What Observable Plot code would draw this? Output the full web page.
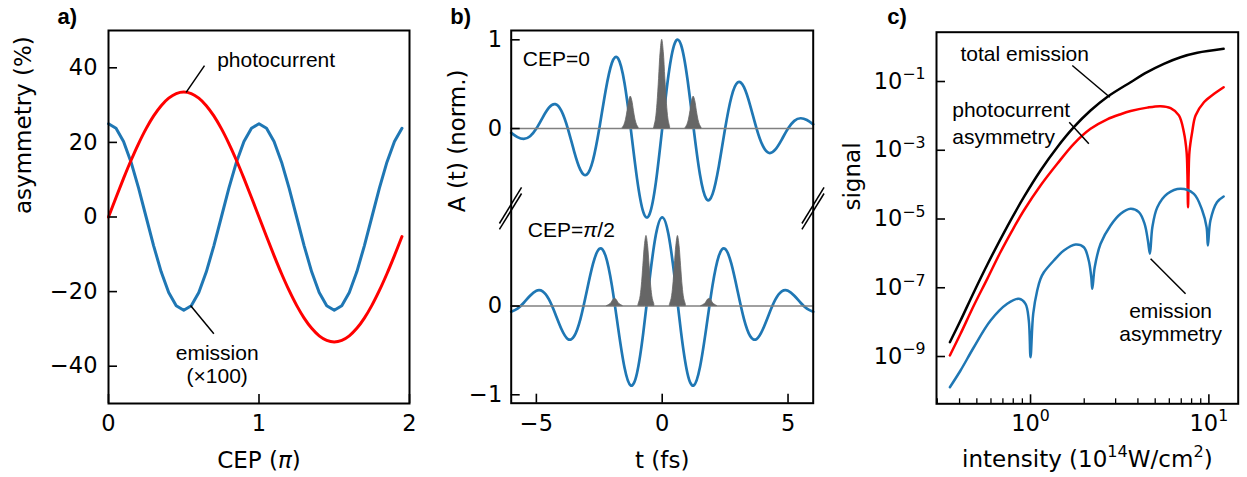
<!DOCTYPE html>
<html>
<head>
<meta charset="utf-8">
<script src="https://cdn.jsdelivr.net/npm/d3@7"></script>
<script src="https://cdn.jsdelivr.net/npm/@observablehq/plot@0.6"></script>
<style>
  html, body { margin: 0; padding: 0; background: white; }
  #fig { position: relative; width: 1247px; height: 477px; overflow: hidden; background: white; }
  #fig svg { position: absolute; top: 0; max-width: none; }
</style>
</head>
<body>
<div id="fig"></div>
<script>
// ---------------- Panel a: asymmetry vs CEP ----------------
const cep = [0, 0.05, 0.1, 0.15, 0.2, 0.25, 0.3, 0.35, 0.4, 0.45, 0.5, 0.55, 0.6, 0.65, 0.7, 0.75, 0.8, 0.85, 0.9, 0.95,
             1, 1.05, 1.1, 1.15, 1.2, 1.25, 1.3, 1.35, 1.4, 1.45, 1.5, 1.55, 1.6, 1.65, 1.7, 1.75, 1.8, 1.85, 1.9, 1.95];
const photocurrentAsym = [0, 5.24, 10.35, 15.21, 19.69, 23.69, 27.10, 29.85, 31.86, 33.09, 33.5, 33.09, 31.86, 29.85, 27.10, 23.69, 19.69, 15.21, 10.35, 5.24,
             0, -5.24, -10.35, -15.21, -19.69, -23.69, -27.10, -29.85, -31.86, -33.09, -33.5, -33.09, -31.86, -29.85, -27.10, -23.69, -19.69, -15.21, -10.35, -5.24];
const emissionAsym100 = [25, 23.78, 20.23, 14.69, 7.73, 0, -7.73, -14.69, -20.23, -23.78, -25, -23.78, -20.23, -14.69, -7.73, 0, 7.73, 14.69, 20.23, 23.78,
             25, 23.78, 20.23, 14.69, 7.73, 0, -7.73, -14.69, -20.23, -23.78, -25, -23.78, -20.23, -14.69, -7.73, 0, 7.73, 14.69, 20.23, 23.78];
const aYTicks = [-40, -20, 0, 20, 40];
const aXTicks = [0, 1, 2];

// ---------------- Panel b: vector potential A(t) ----------------
const tFs = [-6, -5.75, -5.5, -5.25, -5, -4.75, -4.5, -4.25, -4, -3.75, -3.5, -3.25, -3, -2.75, -2.5, -2.25, -2, -1.75, -1.5, -1.25, -1, -0.75, -0.5, -0.25,
             0, 0.25, 0.5, 0.75, 1, 1.25, 1.5, 1.75, 2, 2.25, 2.5, 2.75, 3, 3.25, 3.5, 3.75, 4, 4.25, 4.5, 4.75, 5, 5.25, 5.5, 5.75, 6];
const aCep0 = [-0.048, -0.096, -0.116, -0.087, 0, 0.124, 0.235, 0.275, 0.196, 0, -0.256, -0.466, -0.520, -0.356, 0, 0.424, 0.739, 0.790, 0.517, 0, -0.564, -0.942, -0.962, -0.603,
             0, 0.603, 0.962, 0.942, 0.564, 0, -0.517, -0.790, -0.739, -0.424, 0, 0.356, 0.520, 0.466, 0.256, 0, -0.196, -0.275, -0.235, -0.124, 0, 0.087, 0.116, 0.096, 0.048];
const aCepHalfPi = [-0.064, -0.030, 0.037, 0.116, 0.172, 0.165, 0.074, -0.087, -0.262, -0.372, -0.341, -0.147, 0.164, 0.475, 0.644, 0.566, 0.233, -0.249, -0.690, -0.896, -0.754, -0.297, 0.304, 0.805,
             1.0, 0.805, 0.304, -0.297, -0.754, -0.896, -0.690, -0.249, 0.233, 0.566, 0.644, 0.475, 0.164, -0.147, -0.341, -0.372, -0.262, -0.087, 0.074, 0.165, 0.172, 0.116, 0.037, -0.030, -0.064];
// emission bursts (offsets in fs from each burst centre)
const burstDt = [-0.3125, -0.25, -0.1875, -0.125, -0.0625, 0, 0.0625, 0.125, 0.1875, 0.25, 0.3125];
const burstsCep0 = [
  {center: -1.25, y: [0.01, 0.04, 0.10, 0.20, 0.31, 0.36, 0.31, 0.20, 0.10, 0.04, 0.01]},
  {center: 0,     y: [0.02, 0.10, 0.28, 0.56, 0.86, 1.00, 0.86, 0.56, 0.28, 0.10, 0.02]},
  {center: 1.25,  y: [0.01, 0.04, 0.10, 0.20, 0.31, 0.36, 0.31, 0.20, 0.10, 0.04, 0.01]}
];
const burstsCepHalfPi = [
  {center: -1.875, y: [0.00, 0.01, 0.02, 0.04, 0.07, 0.08, 0.07, 0.04, 0.02, 0.01, 0.00]},
  {center: -0.625, y: [0.02, 0.08, 0.22, 0.45, 0.68, 0.79, 0.68, 0.45, 0.22, 0.08, 0.02]},
  {center: 0.625,  y: [0.02, 0.08, 0.22, 0.45, 0.68, 0.79, 0.68, 0.45, 0.22, 0.08, 0.02]},
  {center: 1.875,  y: [0.00, 0.01, 0.02, 0.04, 0.07, 0.08, 0.07, 0.04, 0.02, 0.01, 0.00]}
];
const bOffsetCep0 = 2;      // vertical offset of the CEP=0 trace (broken axis)
const bOffsetCepHalf = 0;
const bXTicks = [-5, 0, 5];
const bYTicks = [-1, 0, 2, 3];
const bYTickLabels = ["−1", "0", "0", "1"];

// ---------------- Panel c: signal vs intensity ----------------
const intensityTotal = [0.353, 0.405, 0.481, 0.572, 0.740, 0.917, 1.138, 1.412, 1.749, 2.17, 2.69, 3.64, 4.51, 5.59, 6.94, 8.61, 12.1];
const totalEmission = [2.61e-9, 1.11e-8, 7.43e-8, 4.68e-7, 6.03e-6, 4.31e-5, 2.58e-4, 1.23e-3, 4.69e-3, 1.43e-2, 3.55e-2, 9.55e-2, 0.187, 0.327, 0.509, 0.684, 0.893];
const intensityPhoto = [0.353, 0.405, 0.481, 0.572, 0.679, 0.789, 0.917, 1.138, 1.412, 1.749, 2.17, 2.69, 3.20, 3.64, 4.51, 5.36, 6.10, 6.79, 7.24, 7.50, 7.58, 7.64, 7.70, 7.78, 8.06, 8.42, 9.38, 10.7, 12.1];
const photocurrentSignal = [1.07e-9, 4.57e-9, 3.05e-8, 1.82e-7, 1.10e-6, 4.62e-6, 1.77e-5, 9.44e-5, 4.04e-4, 1.54e-3, 4.21e-3, 7.94e-3, 1.12e-2, 1.38e-2, 1.74e-2, 1.91e-2, 1.67e-2, 1.03e-2, 3.35e-3, 8.8e-4, 2.0e-4, 2.19e-5, 2.0e-4, 9.0e-4, 3.4e-3, 1.03e-2, 2.50e-2, 4.39e-2, 6.83e-2];
const intensityEmis = [0.353, 0.405, 0.481, 0.597, 0.740, 0.860, 0.937, 0.978, 1.0, 1.035, 1.090, 1.138, 1.188, 1.351, 1.537, 1.788, 1.99, 2.12, 2.19, 2.22, 2.29, 2.47, 2.81, 3.20, 3.64, 4.05, 4.36, 4.55, 4.67, 4.82, 5.14, 5.85, 6.94, 8.24, 9.18, 9.71, 9.87, 10.2, 11.1, 12.1];
const emissionSignal = [1.28e-10, 3.92e-10, 1.86e-9, 1.11e-8, 3.41e-8, 4.78e-8, 3.41e-8, 1.11e-8, 9.55e-10, 1.75e-8, 8.32e-8, 1.82e-7, 2.82e-7, 6.21e-7, 1.21e-6, 1.81e-6, 1.51e-6, 6.21e-7, 2.03e-7, 9.33e-8, 3.96e-7, 1.90e-6, 6.47e-6, 1.42e-5, 1.98e-5, 1.58e-5, 7.24e-6, 2.37e-6, 9.73e-7, 5.77e-6, 2.20e-5, 5.41e-5, 7.57e-5, 5.41e-5, 1.77e-5, 5.77e-6, 1.69e-6, 9.04e-6, 3.08e-5, 4.52e-5];
const cYTicks = [1e-9, 1e-7, 1e-5, 1e-3, 1e-1];
const cXMajor = [1, 10];
const cXMinor = [0.3, 0.4, 0.5, 0.6, 0.7, 0.8, 0.9, 2, 3, 4, 5, 6, 7, 8, 9];

// ---------------- styling ----------------
const BLUE = "#1f77b4", RED = "#ff0000";
const SANS = "Liberation Sans, Arial, sans-serif";
const DJV = "DejaVu Sans, sans-serif";
const baseStyle = {background: "transparent", overflow: "visible", fontFamily: DJV, fontSize: "22.5px", color: "black"};

// rich-text: ^{...} superscript, *...* italic
function richify(svg) {
  const NS = "http://www.w3.org/2000/svg";
  for (const t of svg.querySelectorAll("text")) {
    const targets = t.querySelector("tspan") ? [...t.querySelectorAll("tspan")] : [t];
    for (const el of targets) {
      const s = el.textContent;
      if (!/\^\{|\*/.test(s)) continue;
      el.textContent = "";
      const re = /\^\{([^}]*)\}|\*([^*]*)\*|([^\^*]+)/g;
      let m, raised = false;
      while ((m = re.exec(s))) {
        const sp = document.createElementNS(NS, "tspan");
        if (m[1] !== undefined) {
          sp.textContent = m[1]; sp.setAttribute("font-size", "70%"); sp.setAttribute("dy", "-0.6em"); raised = true;
        } else {
          sp.textContent = m[2] !== undefined ? m[2] : m[3];
          if (m[2] !== undefined) sp.setAttribute("font-style", "italic");
          if (raised) { sp.setAttribute("dy", "0.42em"); raised = false; }
        }
        el.appendChild(sp);
      }
    }
  }
  return svg;
}

const fig = document.getElementById("fig");
function place(svg, left) { svg.style.left = left + "px"; richify(svg); fig.appendChild(svg); }

// ---------- Panel a ----------
const aRows = cep.map((c, i) => ({cep: c, photo: photocurrentAsym[i], emis: emissionAsym100[i]}));
const aNotes = [
  {x: 0.722, y: 42, text: "photocurrent", anchor: "start"},
  {x: 0.722, y: -39.4, text: "emission\n(×100)", anchor: "middle"}
];
const aLeaders = [
  {x1: 0.638, y1: 40.6, x2: 0.516, y2: 33.4},
  {x1: 0.545, y1: -23.7, x2: 0.700, y2: -31.3}
];
const pa = Plot.plot({
  width: 420, height: 477, marginLeft: 108, marginRight: 11, marginTop: 30, marginBottom: 74,
  style: baseStyle,
  x: {domain: [0, 2]}, y: {domain: [-50, 50]},
  marks: [
    Plot.line(aRows, {x: "cep", y: "emis", stroke: BLUE, strokeWidth: 3}),
    Plot.line(aRows, {x: "cep", y: "photo", stroke: RED, strokeWidth: 3, curve: "catmull-rom"}),
    Plot.frame({stroke: "black", strokeWidth: 2}),
    Plot.axisY({ticks: aYTicks, tickSize: -9, tickPadding: 20, label: null, strokeWidth: 1.6}),
    Plot.axisX({ticks: aXTicks, tickFormat: d => String(d), tickSize: -9, tickPadding: 21, label: null, strokeWidth: 1.6}),
    Plot.link(aLeaders, {x1: "x1", y1: "y1", x2: "x2", y2: "y2", stroke: "black", strokeWidth: 1.5}),
    Plot.text(aNotes.filter(d => d.anchor === "start"), {x: "x", y: "y", text: "text", textAnchor: "start", lineAnchor: "middle", fontFamily: SANS, fontSize: 21}),
    Plot.text(aNotes.filter(d => d.anchor === "middle"), {x: "x", y: "y", text: "text", textAnchor: "middle", lineAnchor: "middle", lineHeight: 1.11, fontFamily: SANS, fontSize: 21}),
    Plot.text(["a)"], {text: d => d, frameAnchor: "top-left", dx: -51, dy: -14, textAnchor: "start", lineAnchor: "middle", fontFamily: SANS, fontWeight: "bold", fontSize: 22}),
    Plot.text(["asymmetry (%)"], {text: d => d, frameAnchor: "left", rotate: -90, dx: -85, dy: -3, lineAnchor: "middle", fontFamily: DJV, fontSize: 23}),
    Plot.text(["CEP (*π*)"], {text: d => d, frameAnchor: "bottom", dy: 57, lineAnchor: "middle", fontFamily: DJV, fontSize: 23})
  ]
});
place(pa, 0);

// ---------- Panel b ----------
const bRows = [];
tFs.forEach((t, i) => {
  bRows.push({t, y: aCep0[i] + bOffsetCep0, id: "cep0"});
  bRows.push({t, y: aCepHalfPi[i] + bOffsetCepHalf, id: "half"});
});
const burstRows = [];
burstsCep0.forEach((b, k) => b.y.forEach((v, j) => burstRows.push({id: "c0-" + k, t: b.center + burstDt[j], lo: bOffsetCep0, hi: bOffsetCep0 + v})));
burstsCepHalfPi.forEach((b, k) => b.y.forEach((v, j) => burstRows.push({id: "ch-" + k, t: b.center + burstDt[j], lo: bOffsetCepHalf, hi: bOffsetCepHalf + v})));
const bNotes = [
  {x: -5.54, y: 2.786, text: "CEP=0"},
  {x: -5.34, y: 0.851, text: "CEP=*π*/2"}
];
const bBreaks = [
  {x1: -6.468, y1: 0.930, x2: -5.588, y2: 1.336},
  {x1: -6.468, y1: 0.863, x2: -5.588, y2: 1.268},
  {x1: 5.552, y1: 0.930, x2: 6.432, y2: 1.336},
  {x1: 5.552, y1: 0.863, x2: 6.432, y2: 1.268}
];
const pb = Plot.plot({
  width: 420, height: 477, marginLeft: 90.7, marginRight: 27.3, marginTop: 30, marginBottom: 74.3,
  style: baseStyle,
  x: {domain: [-6, 6]}, y: {domain: [-1.095, 3.105]},
  marks: [
    Plot.line(bRows, {x: "t", y: "y", z: "id", stroke: BLUE, strokeWidth: 2.7, curve: "natural"}),
    Plot.ruleY([bOffsetCepHalf, bOffsetCep0], {stroke: "#808080", strokeWidth: 1.6}),
    Plot.areaY(burstRows, {x: "t", y1: "lo", y2: "hi", z: "id", fill: "#666666", stroke: "#666666", strokeWidth: 0.8, curve: "catmull-rom"}),
    Plot.frame({stroke: "black", strokeWidth: 2}),
    Plot.axisY({ticks: bYTicks, tickFormat: d => bYTickLabels[bYTicks.indexOf(d)], tickSize: -9, tickPadding: 18, label: null, strokeWidth: 1.6}),
    Plot.axisX({ticks: bXTicks, tickSize: -9, tickPadding: 21, label: null, strokeWidth: 1.6}),
    Plot.link(bBreaks, {x1: "x1", y1: "y1", x2: "x2", y2: "y2", stroke: "black", strokeWidth: 1.5}),
    Plot.text(bNotes, {x: "x", y: "y", text: "text", textAnchor: "start", lineAnchor: "middle", fontFamily: SANS, fontSize: 21}),
    Plot.text(["b)"], {text: d => d, frameAnchor: "top-left", dx: -61, dy: -14, textAnchor: "start", lineAnchor: "middle", fontFamily: SANS, fontWeight: "bold", fontSize: 22}),
    Plot.text(["A (t) (norm.)"], {text: d => d, frameAnchor: "left", rotate: -90, dx: -54, dy: -4.7, lineAnchor: "middle", fontFamily: DJV, fontSize: 23}),
    Plot.text(["t (fs)"], {text: d => d, frameAnchor: "bottom", dy: 57, lineAnchor: "middle", fontFamily: DJV, fontSize: 23})
  ]
});
place(pb, 420);

// ---------- Panel c ----------
const cRows = [
  ...intensityTotal.map((x, i) => ({x, s: totalEmission[i], id: "total"})),
  ...intensityPhoto.map((x, i) => ({x, s: photocurrentSignal[i], id: "photo"})),
  ...intensityEmis.map((x, i) => ({x, s: emissionSignal[i], id: "emis"}))
];
const cNotes = [
  {x: 0.405, y: 0.711, text: "total emission", anchor: "start"},
  {x: 0.364, y: 6.55e-3, text: "photocurrent\nasymmetry", anchor: "start"},
  {x: 6.10, y: 1.0e-8, text: "emission\nasymmetry", anchor: "middle"}
];
const cLeaders = [
  {x1: 1.714, y1: 0.292, x2: 2.785, y2: 0.0349},
  {x1: 1.648, y1: 6.55e-3, x2: 2.123, y2: 1.54e-3},
  {x1: 4.71, y1: 6.95e-7, x2: 7.40, y2: 6.67e-8}
];
const cColor = {total: "black", photo: RED, emis: BLUE};
const pc = Plot.plot({
  width: 407, height: 477, marginLeft: 96, marginRight: 9.3, marginTop: 31.7, marginBottom: 73.7,
  style: baseStyle,
  x: {type: "log", domain: [0.297, 14.6]}, y: {type: "log", domain: [4.21e-11, 2.72]},
  marks: [
    ...["total", "photo", "emis"].map(id => Plot.line(cRows.filter(d => d.id === id), {x: "x", y: "s", stroke: cColor[id], strokeWidth: 2.5, curve: "catmull-rom"})),
    Plot.frame({stroke: "black", strokeWidth: 2}),
    Plot.axisY({ticks: cYTicks, tickFormat: d => `10^{−${Math.round(-Math.log10(d))}}`, tickSize: -9, tickPadding: 20, label: null, strokeWidth: 1.6}),
    Plot.axisX({ticks: cXMajor, tickFormat: d => `10^{${Math.round(Math.log10(d))}}`, tickSize: -9, tickPadding: 20, label: null, strokeWidth: 1.6}),
    Plot.axisX({ticks: cXMinor, tickFormat: () => "", tickSize: -5, label: null, strokeWidth: 1.3}),
    Plot.link(cLeaders, {x1: "x1", y1: "y1", x2: "x2", y2: "y2", stroke: "black", strokeWidth: 1.5}),
    Plot.text(cNotes.filter(d => d.anchor === "start"), {x: "x", y: "y", text: "text", textAnchor: "start", lineAnchor: "middle", lineHeight: 1.27, fontFamily: SANS, fontSize: 21}),
    Plot.text(cNotes.filter(d => d.anchor === "middle"), {x: "x", y: "y", text: "text", textAnchor: "middle", lineAnchor: "middle", lineHeight: 1.11, fontFamily: SANS, fontSize: 21}),
    Plot.text(["c)"], {text: d => d, frameAnchor: "top-left", dx: -49.3, dy: -15.7, textAnchor: "start", lineAnchor: "middle", fontFamily: SANS, fontWeight: "bold", fontSize: 22}),
    Plot.text(["signal"], {text: d => d, frameAnchor: "left", rotate: -90, dx: -84.3, dy: -7.5, lineAnchor: "middle", fontFamily: DJV, fontSize: 23}),
    Plot.text(["intensity (10^{14}W/cm^{2})"], {text: d => d, frameAnchor: "bottom", dy: 55.7, lineAnchor: "middle", fontFamily: DJV, fontSize: 23})
  ]
});
place(pc, 840);
</script>
</body>
</html>
